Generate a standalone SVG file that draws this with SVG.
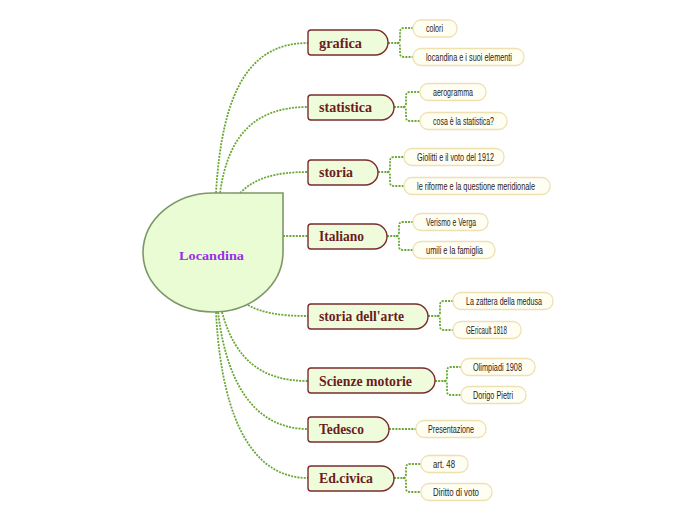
<svg xmlns="http://www.w3.org/2000/svg" width="697" height="520" viewBox="0 0 697 520">
<style>
.bg{fill:#ffffff}
.con{fill:none;stroke:#6aa834;stroke-width:1.8;stroke-dasharray:2 1.2}
.main path{fill:#effcdc;stroke:#7a2b2b;stroke-width:1.4}
.main text{font-family:"Liberation Serif","DejaVu Serif",serif;font-weight:bold;font-size:14.5px;fill:#6b1c1c}
.sub rect{fill:#fefef3;stroke:#efe0b2;stroke-width:1.3}
.sub text{font-family:"Liberation Sans","DejaVu Sans",sans-serif;font-size:10.5px;fill:#2e2016}
#root path{fill:#e9fcd3;stroke:#7c9868;stroke-width:1.6}
#root text{font-family:"Liberation Serif","DejaVu Serif",serif;font-weight:bold;font-size:13px;fill:#9b2ee8}
</style>
<rect class="bg" x="0" y="0" width="697" height="520"/>

<g id="connectors">
  <path class="con" d="M216 193 C222 90 250 43 308 43"/>
  <path class="con" d="M220 193 C228 135 255 107 308 107"/>
  <path class="con" d="M240 193 C255 178 275 172 308 172"/>
  <path class="con" d="M283 236 H308"/>
  <path class="con" d="M248 305 C262 313 280 316 308 316"/>
  <path class="con" d="M222 312 C235 360 262 381 308 381"/>
  <path class="con" d="M218 312 C228 395 262 429 308 429"/>
  <path class="con" d="M216 312 C222 430 258 478 308 478"/>
  <path class="con" d="M388 43 H397 Q400 43 400 39 V32 Q400 28 404 28 H413"/>
  <path class="con" d="M397 43 Q400 43 400 47 V53 Q400 57 404 57 H413"/>
  <path class="con" d="M394 107 H403 Q406 107 406 103 V96 Q406 92 410 92 H420"/>
  <path class="con" d="M403 107 Q406 107 406 111 V117 Q406 121 410 121 H420"/>
  <path class="con" d="M378 172 H387 Q390 172 390 168 V161 Q390 157 394 157 H404"/>
  <path class="con" d="M387 172 Q390 172 390 176 V182 Q390 186 394 186 H404"/>
  <path class="con" d="M387 236 H396 Q399 236 399 232 V226 Q399 222 403 222 H413"/>
  <path class="con" d="M396 236 Q399 236 399 240 V246 Q399 250 403 250 H413"/>
  <path class="con" d="M428 316 H437 Q440 316 440 312 V305 Q440 301 444 301 H453"/>
  <path class="con" d="M437 316 Q440 316 440 320 V326 Q440 330 444 330 H453"/>
  <path class="con" d="M435 381 H444 Q447 381 447 377 V371 Q447 367 451 367 H461"/>
  <path class="con" d="M444 381 Q447 381 447 385 V391 Q447 395 451 395 H461"/>
  <path class="con" d="M389 429 H416"/>
  <path class="con" d="M394 478 H403 Q406 478 406 474 V468 Q406 464 410 464 H421"/>
  <path class="con" d="M403 478 Q406 478 406 482 V488 Q406 492 410 492 H421"/>
</g>

<g id="root">
  <path d="M213 193 L283 193 L283 252 A70 60 0 0 1 213 312 A70 60 0 0 1 143 252 A70 60 0 0 1 213 193 Z"/>
  <text x="179" y="260" textLength="65" lengthAdjust="spacingAndGlyphs">Locandina</text>
</g>

<g id="n-grafica" class="main">
  <path d="M311 30 H375.5 A12.5 12.5 0 0 1 375.5 55 H311 Q308 55 308 52 V33 Q308 30 311 30 Z"/>
  <text x="319" y="48" textLength="43" lengthAdjust="spacingAndGlyphs">grafica</text>
</g>
<g id="n-statistica" class="main">
  <path d="M311 95 H381.5 A12.5 12.5 0 0 1 381.5 120 H311 Q308 120 308 117 V98 Q308 95 311 95 Z"/>
  <text x="319" y="112" textLength="53" lengthAdjust="spacingAndGlyphs">statistica</text>
</g>
<g id="n-storia" class="main">
  <path d="M311 160 H365.5 A12.5 12.5 0 0 1 365.5 185 H311 Q308 185 308 182 V163 Q308 160 311 160 Z"/>
  <text x="319" y="177" textLength="34" lengthAdjust="spacingAndGlyphs">storia</text>
</g>
<g id="n-italiano" class="main">
  <path d="M311 224 H374.5 A12.5 12.5 0 0 1 374.5 249 H311 Q308 249 308 246 V227 Q308 224 311 224 Z"/>
  <text x="319" y="241" textLength="45" lengthAdjust="spacingAndGlyphs">Italiano</text>
</g>
<g id="n-arte" class="main">
  <path d="M311 304 H415.5 A12.5 12.5 0 0 1 415.5 329 H311 Q308 329 308 326 V307 Q308 304 311 304 Z"/>
  <text x="319" y="321" textLength="85" lengthAdjust="spacingAndGlyphs">storia dell'arte</text>
</g>
<g id="n-scienze" class="main">
  <path d="M311 368 H422.5 A12.5 12.5 0 0 1 422.5 393 H311 Q308 393 308 390 V371 Q308 368 311 368 Z"/>
  <text x="319" y="386" textLength="93" lengthAdjust="spacingAndGlyphs">Scienze motorie</text>
</g>
<g id="n-tedesco" class="main">
  <path d="M311 417 H376.5 A12.5 12.5 0 0 1 376.5 442 H311 Q308 442 308 439 V420 Q308 417 311 417 Z"/>
  <text x="319" y="434" textLength="45" lengthAdjust="spacingAndGlyphs">Tedesco</text>
</g>
<g id="n-civica" class="main">
  <path d="M311 466 H381.5 A12.5 12.5 0 0 1 381.5 491 H311 Q308 491 308 488 V469 Q308 466 311 466 Z"/>
  <text x="319" y="483" textLength="54" lengthAdjust="spacingAndGlyphs">Ed.civica</text>
</g>

<g id="s-colori" class="sub"><rect x="413" y="20" width="44" height="17" rx="8"/><text x="426" y="32" textLength="17" lengthAdjust="spacingAndGlyphs">colori</text></g>
<g id="s-locandina" class="sub"><rect x="413" y="48.5" width="111" height="17" rx="8"/><text x="426" y="60.5" textLength="86" lengthAdjust="spacingAndGlyphs">locandina e i suoi elementi</text></g>
<g id="s-aerogramma" class="sub"><rect x="420" y="83.5" width="66" height="17" rx="8"/><text x="433" y="95.5" textLength="40" lengthAdjust="spacingAndGlyphs">aerogramma</text></g>
<g id="s-cosa" class="sub"><rect x="420" y="112.5" width="87" height="17" rx="8"/><text x="433" y="124.5" textLength="61" lengthAdjust="spacingAndGlyphs">cosa è la statistica?</text></g>
<g id="s-giolitti" class="sub"><rect x="404" y="148.5" width="100" height="17" rx="8"/><text x="417" y="160.5" textLength="77" lengthAdjust="spacingAndGlyphs">Giolitti e il voto del 1912</text></g>
<g id="s-riforme" class="sub"><rect x="404" y="177.5" width="146" height="17" rx="8"/><text x="417" y="189.5" textLength="118" lengthAdjust="spacingAndGlyphs">le riforme e la questione meridionale</text></g>
<g id="s-verismo" class="sub"><rect x="413" y="213.5" width="75" height="17" rx="8"/><text x="426" y="225.5" textLength="50" lengthAdjust="spacingAndGlyphs">Verismo e Verga</text></g>
<g id="s-umili" class="sub"><rect x="413" y="241.5" width="82" height="17" rx="8"/><text x="426" y="253.5" textLength="57" lengthAdjust="spacingAndGlyphs">umili e la famiglia</text></g>
<g id="s-zattera" class="sub"><rect x="453" y="292.5" width="100" height="17" rx="8"/><text x="466" y="304.5" textLength="76" lengthAdjust="spacingAndGlyphs">La zattera della medusa</text></g>
<g id="s-gericault" class="sub"><rect x="453" y="321.5" width="68" height="17" rx="8"/><text x="466" y="333.5" textLength="41" lengthAdjust="spacingAndGlyphs">GEricault 1818</text></g>
<g id="s-olimpiadi" class="sub"><rect x="461" y="358.5" width="74" height="17" rx="8"/><text x="473" y="370.5" textLength="49" lengthAdjust="spacingAndGlyphs">Olimpiadi 1908</text></g>
<g id="s-dorigo" class="sub"><rect x="461" y="386.5" width="65" height="17" rx="8"/><text x="473" y="398.5" textLength="40" lengthAdjust="spacingAndGlyphs">Dorigo Pietri</text></g>
<g id="s-presentazione" class="sub"><rect x="416" y="420.5" width="70" height="17" rx="8"/><text x="428" y="432.5" textLength="46" lengthAdjust="spacingAndGlyphs">Presentazione</text></g>
<g id="s-art48" class="sub"><rect x="421" y="455.5" width="47" height="17" rx="8"/><text x="433" y="467.5" textLength="22" lengthAdjust="spacingAndGlyphs">art. 48</text></g>
<g id="s-diritto" class="sub"><rect x="421" y="483.5" width="71" height="17" rx="8"/><text x="433" y="495.5" textLength="46" lengthAdjust="spacingAndGlyphs">Diritto di voto</text></g>
</svg>
